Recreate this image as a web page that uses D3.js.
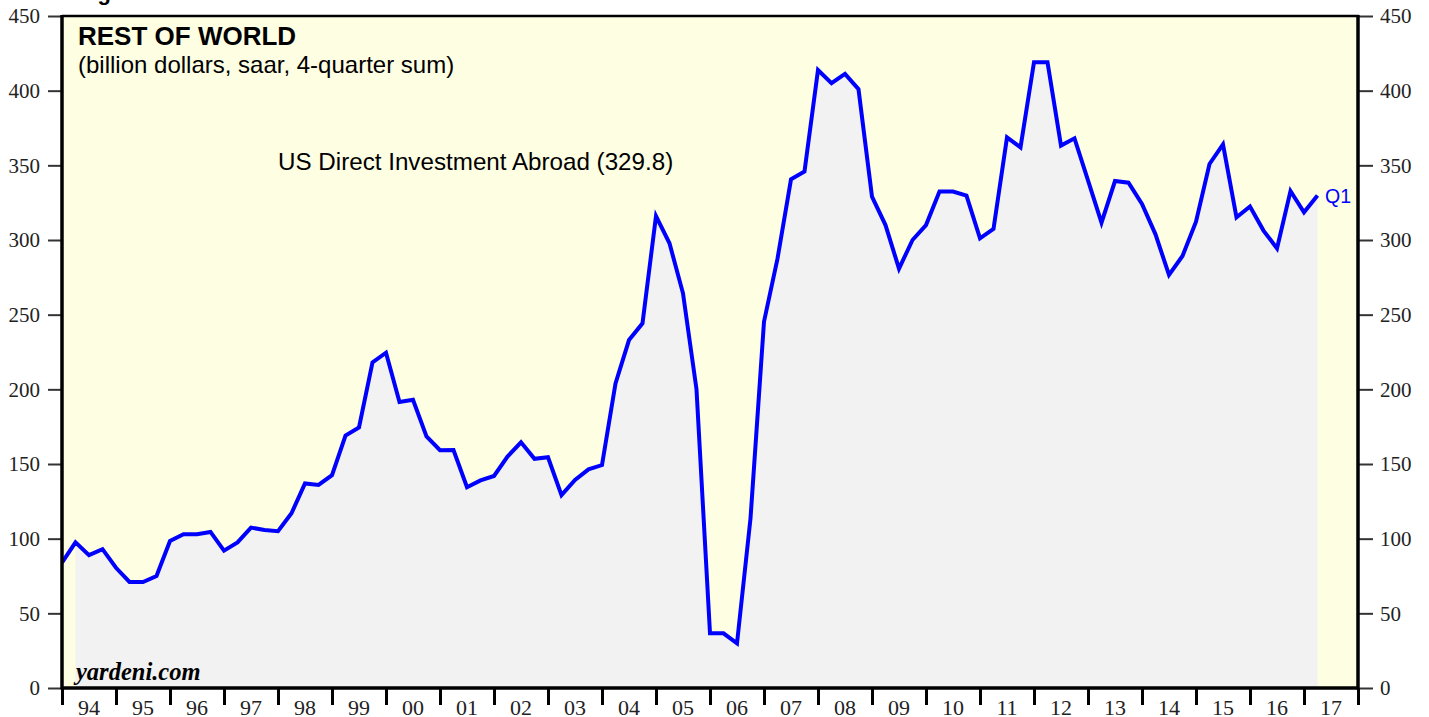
<!DOCTYPE html>
<html><head><meta charset="utf-8">
<script src="https://cdn.jsdelivr.net/npm/d3@7/dist/d3.min.js"></script>
<style>body{margin:0;background:#fff;} svg{display:block;}</style>
</head><body>
<svg id="chart" width="1429" height="717"></svg>
<script>
// ---- data ----
const firstQuarterEnd = 1994.0; // end of 1993 Q4; one point per quarter after that
const values = [
  84, 97.5, 89, 93, 80.5,
  71, 71, 75, 98.5,
  103, 103, 104.5, 92,
  97.5, 107.4, 105.8, 105,
  117, 137, 136, 142.5,
  169, 174.5, 218, 224.5,
  191.5, 193, 168.5, 159.2,
  159.4, 134.4, 139, 142,
  155, 164.5, 153.5, 154.5,
  129.2, 139.3, 146.4, 149.3,
  204, 233, 244.2, 316,
  297.8, 264.3, 200, 36.6,
  36.6, 29.9, 113.6, 245.3,
  287.5, 340.6, 345.8, 413.8,
  405, 411.2, 401, 329,
  310, 280.8, 300, 310,
  332.4, 332.4, 329.7, 301.1,
  307.4, 368.7, 362, 419,
  419, 363.2, 368.1, 340,
  311.6, 339.5, 338.4, 324.1,
  303.8, 276.6, 289.3, 312.3,
  350.9, 364.1, 315.2, 322.4,
  306.3, 294.4, 332.8, 318.6,
  329.8
];
const yTicks = [0, 50, 100, 150, 200, 250, 300, 350, 400, 450];
const yearTicks = [1994,1995,1996,1997,1998,1999,2000,2001,2002,2003,2004,2005,2006,2007,2008,2009,2010,2011,2012,2013,2014,2015,2016,2017,2018];
const yearLabels = ["94","95","96","97","98","99","00","01","02","03","04","05","06","07","08","09","10","11","12","13","14","15","16","17"];
const titleText = "REST OF WORLD";
const subtitleText = "(billion dollars, saar, 4-quarter sum)";
const seriesLabel = "US Direct Investment Abroad (329.8)";
const lastLabel = "Q1";

// ---- layout ----
const L = 62, R = 1358, T = 16, B = 688;
const svg = d3.select("#chart");
const x = d3.scaleLinear().domain([1994, 2018]).range([L, R]);
const y = d3.scaleLinear().domain([0, 450]).range([B, T]);
const pts = values.map((v, i) => ({t: firstQuarterEnd + i * 0.25, v}));

svg.append("text").attr("x", 78).attr("y", 0)
  .attr("font-family", "Liberation Sans, Arial, sans-serif").attr("font-weight", "bold")
  .attr("font-size", 22).attr("fill", "#000").text("Figure 8.");

svg.append("rect").attr("x", L).attr("y", T).attr("width", R - L).attr("height", B - T).attr("fill", "#FEFEE3");

svg.append("clipPath").attr("id", "clip").append("rect")
  .attr("x", L).attr("y", T).attr("width", R - L).attr("height", B - T);

const area = d3.area().x(d => x(d.t)).y0(y(0)).y1(d => y(d.v));
svg.append("path").datum(pts.slice(1)).attr("d", area).attr("fill", "#F2F2F2");

const line = d3.line().x(d => x(d.t)).y(d => y(d.v));
svg.append("path").datum(pts).attr("d", line).attr("fill", "none")
  .attr("stroke", "#0000FF").attr("stroke-width", 4).attr("stroke-linejoin", "miter")
  .attr("clip-path", "url(#clip)");

// axes
const serif = "Liberation Serif, Times New Roman, serif";
const gl = svg.append("g").attr("transform", `translate(${L},0)`)
  .call(d3.axisLeft(y).tickValues(yTicks).tickSize(14).tickPadding(8));
const gr = svg.append("g").attr("transform", `translate(${R},0)`)
  .call(d3.axisRight(y).tickValues(yTicks).tickSize(15).tickPadding(7));
[gl, gr].forEach(g => {
  g.select(".domain").remove();
  g.selectAll(".tick line").attr("stroke", "#333").attr("stroke-width", 2);
  g.selectAll(".tick text").attr("font-family", serif).attr("font-size", 21).attr("fill", "#222");
});

const gx = svg.append("g").attr("transform", `translate(0,${B})`)
  .call(d3.axisBottom(x).tickValues(yearTicks).tickSize(17).tickFormat(""));
gx.select(".domain").remove();
gx.selectAll(".tick line").attr("stroke", "#000").attr("stroke-width", 3);

svg.append("g").selectAll("text").data(yearLabels).join("text")
  .attr("x", (d, i) => x(yearTicks[i] + 0.5)).attr("y", 715)
  .attr("text-anchor", "middle").attr("font-family", serif).attr("font-size", 22)
  .attr("fill", "#222").text(d => d);

// frame
svg.append("line").attr("x1", L).attr("x2", R + 1).attr("y1", T).attr("y2", T).attr("stroke", "#000").attr("stroke-width", 2.5);
svg.append("line").attr("x1", L).attr("x2", R + 1).attr("y1", B).attr("y2", B).attr("stroke", "#000").attr("stroke-width", 3.5);
svg.append("line").attr("x1", L).attr("x2", L).attr("y1", T - 1).attr("y2", B + 1.5).attr("stroke", "#000").attr("stroke-width", 3.5);
svg.append("line").attr("x1", R).attr("x2", R).attr("y1", T - 1).attr("y2", B + 1.5).attr("stroke", "#000").attr("stroke-width", 3.5);

// texts
const sans = "Liberation Sans, Arial, Helvetica, sans-serif";
svg.append("text").attr("x", 78).attr("y", 45).attr("font-family", sans).attr("font-weight", "bold")
  .attr("font-size", 26).attr("fill", "#000").text(titleText);
svg.append("text").attr("x", 78).attr("y", 73).attr("font-family", sans)
  .attr("font-size", 24).attr("fill", "#000").text(subtitleText);
svg.append("text").attr("x", 278).attr("y", 170).attr("font-family", sans)
  .attr("font-size", 24.2).attr("fill", "#000").text(seriesLabel);
const last = pts[pts.length - 1];
svg.append("text").attr("x", x(last.t) + 7.5).attr("y", y(last.v) + 7.5).attr("font-family", sans)
  .attr("font-size", 19.5).attr("fill", "#0000FF").text(lastLabel);
svg.append("text").attr("x", 76).attr("y", 680).attr("font-family", serif).attr("font-weight", "bold")
  .attr("font-style", "italic").attr("font-size", 24.5).attr("fill", "#000").text("yardeni.com");
</script>
</body></html>
